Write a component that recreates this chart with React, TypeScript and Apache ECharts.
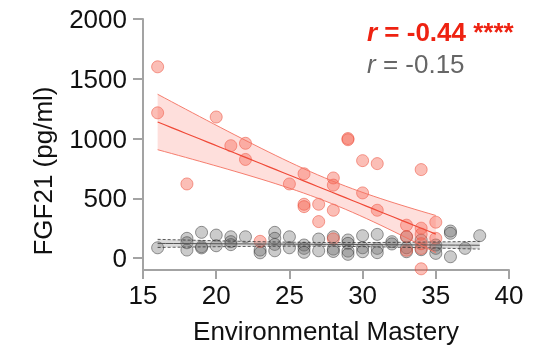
import React, { useEffect, useRef } from "react";
import * as echarts from "echarts";

const redX = [16, 16, 18, 20, 21, 22, 22, 23, 25, 26, 26, 26, 27, 27, 28, 28, 28, 28, 29, 29, 30, 30, 31, 31, 33, 33, 33, 34, 34, 34, 34, 34, 34, 35, 35];
const redY = [1600, 1215, 620, 1180, 940, 960, 825, 140, 620, 705, 450, 430, 450, 305, 670, 610, 400, 160, 1000, 990, 815, 545, 790, 400, 275, 180, 65, 740, 250, 200, 120, 80, -90, 300, 165];

const grayX = [16, 18, 18, 18, 19, 19, 19, 20, 20, 21, 21, 21, 22, 23, 23, 24, 24, 24, 24, 25, 25, 26, 26, 26, 27, 27, 28, 28, 28, 29, 29, 29, 29, 30, 30, 30, 31, 31, 31, 32, 32, 33, 33, 33, 34, 34, 35, 35, 35, 36, 36, 36, 37, 38];
const grayY = [86, 165, 128, 67, 215, 95, 85, 192, 103, 178, 137, 112, 178, 67, 44, 215, 165, 114, 61, 178, 86, 109, 81, 48, 159, 61, 178, 75, 55, 151, 123, 58, 31, 187, 86, 53, 198, 81, 45, 137, 118, 178, 86, 53, 150, 70, 109, 81, 39, 226, 207, 11, 81, 187];

const xTicks = [15, 20, 25, 30, 35, 40];
const yTicks = [0, 500, 1000, 1500, 2000];

const FONT = "'Liberation Sans', Arial, Helvetica, sans-serif";

function tQuantile(df: number) {
  const z = 1.959964;
  return z + (z ** 3 + z) / (4 * df) + (5 * z ** 5 + 16 * z ** 3 + 3 * z) / (96 * df * df);
}

function fit(xs: number[], ys: number[]) {
  const n = xs.length;
  const mx = xs.reduce((a, b) => a + b, 0) / n;
  const my = ys.reduce((a, b) => a + b, 0) / n;
  let sxx = 0, sxy = 0;
  for (let i = 0; i < n; i++) {
    sxx += (xs[i] - mx) ** 2;
    sxy += (xs[i] - mx) * (ys[i] - my);
  }
  const b = sxy / sxx;
  const a = my - b * mx;
  let sse = 0;
  for (let i = 0; i < n; i++) sse += (ys[i] - (a + b * xs[i])) ** 2;
  const s = Math.sqrt(sse / (n - 2));
  const t = tQuantile(n - 2);
  const x0 = Math.min(...xs), x1 = Math.max(...xs);
  const line: number[][] = [], up: number[][] = [], lo: number[][] = [];
  const steps = 40;
  for (let k = 0; k <= steps; k++) {
    const x = x0 + ((x1 - x0) * k) / steps;
    const yh = a + b * x;
    const h = t * s * Math.sqrt(1 / n + (x - mx) ** 2 / sxx);
    line.push([x, yh]);
    up.push([x, yh + h]);
    lo.push([x, yh - h]);
  }
  return { line, up, lo };
}

function bandSeries(up: number[][], lo: number[][], fill: string) {
  return {
    type: "custom",
    silent: true,
    data: [0],
    z: 3,
    renderItem: (_p: any, api: any) => {
      const pts = up.map((p) => api.coord(p)).concat(lo.slice().reverse().map((p) => api.coord(p)));
      return { type: "polygon", shape: { points: pts }, style: { fill } };
    },
  };
}

function lineSeries(data: number[][], color: string, width: number, type: any = "solid") {
  return {
    type: "line",
    data,
    showSymbol: false,
    silent: true,
    z: 4,
    lineStyle: { color, width, type },
  };
}

export default function App() {
  const ref = useRef<HTMLDivElement>(null);
  useEffect(() => {
    const chart = echarts.init(ref.current!, null, { renderer: "svg" });
    const red = fit(redX, redY);
    const gray = fit(grayX, grayY);
    const axisColor = "#a3a3a3";
    chart.setOption({
      animation: false,
      grid: { left: 143, right: 25, top: 19, bottom: 88 },
      xAxis: {
        type: "value",
        min: xTicks[0],
        max: xTicks[xTicks.length - 1],
        interval: 5,
        splitLine: { show: false },
        axisLine: { onZero: false, lineStyle: { color: axisColor, width: 2 } },
        axisTick: { length: 9, lineStyle: { color: axisColor, width: 2 } },
        axisLabel: { fontSize: 26, fontFamily: FONT, color: "#111", margin: 12, formatter: (v: number) => String(v) },
        name: "Environmental Mastery",
        nameLocation: "middle",
        nameGap: 48,
        nameTextStyle: { fontSize: 26, fontFamily: FONT, color: "#111" },
      },
      yAxis: {
        type: "value",
        min: -100,
        max: 2000,
        splitLine: { show: false },
        axisLine: { onZero: false, lineStyle: { color: axisColor, width: 2 } },
        axisTick: { length: 10, customValues: yTicks, lineStyle: { color: axisColor, width: 2 } },
        axisLabel: {
          fontSize: 26,
          fontFamily: FONT,
          color: "#111",
          margin: 16,
          customValues: yTicks,
          formatter: (v: number) => String(v),
        },
      },
      graphic: [
        {
          type: "text",
          x: 43,
          y: 171,
          rotation: Math.PI / 2,
          style: {
            text: "FGF21 (pg/ml)",
            fontSize: 26,
            fontFamily: FONT,
            fill: "#111",
            align: "center",
            verticalAlign: "middle",
          },
        },
        {
          type: "text",
          x: 367,
          y: 19,
          style: {
            text: "{i|r} = -0.44 ****",
            fontSize: 26,
            fontWeight: "bold",
            fontFamily: FONT,
            fill: "#ee2211",
            verticalAlign: "top",
            rich: { i: { fontStyle: "italic", fontWeight: "bold", fontSize: 26, fontFamily: FONT, fill: "#ee2211" } },
          },
        },
        {
          type: "text",
          x: 367,
          y: 51,
          style: {
            text: "{i|r} = -0.15",
            fontSize: 26,
            fontFamily: FONT,
            fill: "#666",
            verticalAlign: "top",
            rich: { i: { fontStyle: "italic", fontSize: 26, fontFamily: FONT, fill: "#666" } },
          },
        },
      ],
      series: [
        {
          type: "scatter",
          data: grayX.map((x, i) => [x, grayY[i]]),
          symbolSize: 12,
          z: 2,
          itemStyle: { color: "rgba(100,100,100,0.42)", borderColor: "rgba(40,40,40,0.6)", borderWidth: 1 },
        },
        {
          type: "scatter",
          data: redX.map((x, i) => [x, redY[i]]),
          symbolSize: 12,
          z: 2,
          itemStyle: { color: "rgba(244,92,72,0.5)", borderColor: "rgba(235,60,40,0.6)", borderWidth: 1 },
        },
        bandSeries(gray.up, gray.lo, "rgba(140,140,140,0.3)"),
        lineSeries(gray.up, "#333", 0.8, [3, 2]),
        lineSeries(gray.lo, "#333", 0.8, [3, 2]),
        lineSeries(gray.line, "#555", 1),
        bandSeries(red.up, red.lo, "rgba(250,110,95,0.22)"),
        lineSeries(red.up, "#f47060", 0.9),
        lineSeries(red.lo, "#f47060", 0.9),
        lineSeries(red.line, "#f04a38", 1.2),
      ],
    });
    return () => chart.dispose();
  }, []);
  return <div ref={ref} style={{ position: "fixed", left: 0, top: 0, width: 534, height: 358 }} />;
}
